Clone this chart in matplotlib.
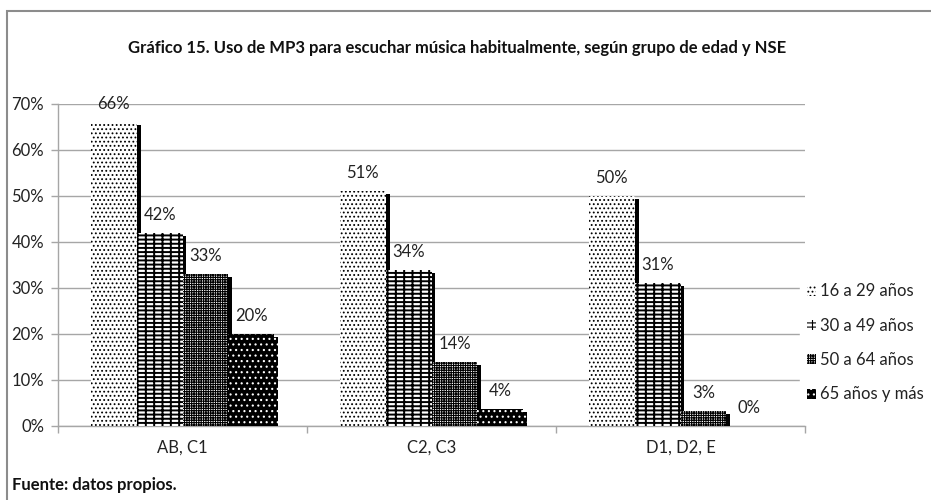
import matplotlib
matplotlib.use("Agg")
import matplotlib.pyplot as plt
import matplotlib.patheffects as pe
from matplotlib.patches import Patch, Rectangle
import numpy as np

# data
categories = ["AB, C1", "C2, C3", "D1, D2, E"]
series_names = ["16 a 29 años", "30 a 49 años", "50 a 64 años", "65 años y más"]
v_16_29 = [66, 51, 50]
v_30_49 = [42, 34, 31]
v_50_64 = [33, 14, 3.3]
v_65_mas = [20, 3.6, 0]
values = [v_16_29, v_30_49, v_50_64, v_65_mas]

title = "Gráfico 15. Uso de MP3 para escuchar música habitualmente, según grupo de edad y NSE"
source = "Fuente: datos propios."
yticks = [0, 10, 20, 30, 40, 50, 60, 70]

# fill / hatch per series (excel-like patterns)
styles = [
    dict(facecolor="white", edgecolor="black", hatch="...."),
    dict(facecolor="white", edgecolor="black", hatch="----||"),
    dict(facecolor="white", edgecolor="black", hatch="+++++++"),
    dict(facecolor="black", edgecolor="white", hatch="..."),
]
hatch_lw = [0.8, 1.4, 0.8, 0.8]

plt.rcParams["font.family"] = ["Lato", "DejaVu Sans"]
plt.rcParams["hatch.linewidth"] = 0.8

fig = plt.figure(figsize=(9.31, 5.0), dpi=100)
ax = fig.add_axes([58 / 931, 74 / 500, 747 / 931, 322 / 500])

x = np.arange(len(categories))
w = 0.184
grid_c = "#a6a6a6"

handles = []
for i, (vals, st) in enumerate(zip(values, styles)):
    pos = x + (i - 1.5) * w
    with plt.rc_context({"hatch.linewidth": hatch_lw[i]}):
        bars = ax.bar(pos, vals, w, linewidth=0, zorder=3, **st)
        handles.append(Patch(label=series_names[i], linewidth=0, **st))
    for b in list(bars) + [handles[-1]]:
        if hasattr(b, "set_hatch_linewidth"):
            b.set_hatch_linewidth(hatch_lw[i])
    for b in bars:
        b.set_path_effects([pe.SimplePatchShadow(offset=(2.8, -2.2), shadow_rgbFace="black", alpha=1.0),
                            pe.Normal()])
    for p, v in zip(pos, vals):
        ax.annotate(f"{v:.0f}%", (p, v), xytext=(0, 13), textcoords="offset points",
                    ha="center", va="center", fontsize=12, color="#222222", zorder=5)

ax.set_xlim(-0.5, 2.5)
ax.set_ylim(0, 70)
ax.set_yticks(yticks)
ax.set_yticklabels([f"{t}%" for t in yticks])
ax.yaxis.grid(True, color=grid_c, linewidth=1.0, zorder=0)
ax.set_axisbelow(True)

ax.set_xticks(x)
ax.set_xticklabels(categories)
ax.set_xticks(np.arange(-0.5, 3.0, 1.0), minor=True)
ax.tick_params(axis="x", which="major", length=0, pad=10, labelsize=12, labelcolor="#222222")
ax.tick_params(axis="x", which="minor", length=5, width=1, color=grid_c, direction="out")
ax.tick_params(axis="y", length=5, width=1, color=grid_c, pad=5, labelsize=12, labelcolor="#222222")

for s in ["top", "right"]:
    ax.spines[s].set_visible(False)
for s in ["left", "bottom"]:
    ax.spines[s].set_color(grid_c)
    ax.spines[s].set_linewidth(1.0)

leg = ax.legend(handles=handles, loc="center left", bbox_to_anchor=(800 / 931, 157 / 500),
                bbox_transform=fig.transFigure, frameon=True, fancybox=False,
                edgecolor="white", facecolor="white", framealpha=1, fontsize=12,
                handlelength=0.55, handleheight=0.55, handletextpad=0.25,
                labelspacing=1.1, borderaxespad=0, borderpad=0.4)
for t in leg.get_texts():
    t.set_color("#222222")

fig.text(457 / 931, 1 - 48 / 500, title, ha="center", va="center",
         fontsize=12, fontweight="bold", color="#111111")
fig.text(12 / 931, 1 - 485 / 500, source, ha="left", va="center",
         fontsize=12, fontweight="bold", color="#111111")

# outer chart frame (left and top edges only visible)
fig.add_artist(Rectangle((7 / 931, -0.1), 1.2, 1.1 - 11 / 500, transform=fig.transFigure,
                         fill=False, edgecolor="#8c8c8c", linewidth=1.5))

fig.savefig("out.png", dpi=100)
